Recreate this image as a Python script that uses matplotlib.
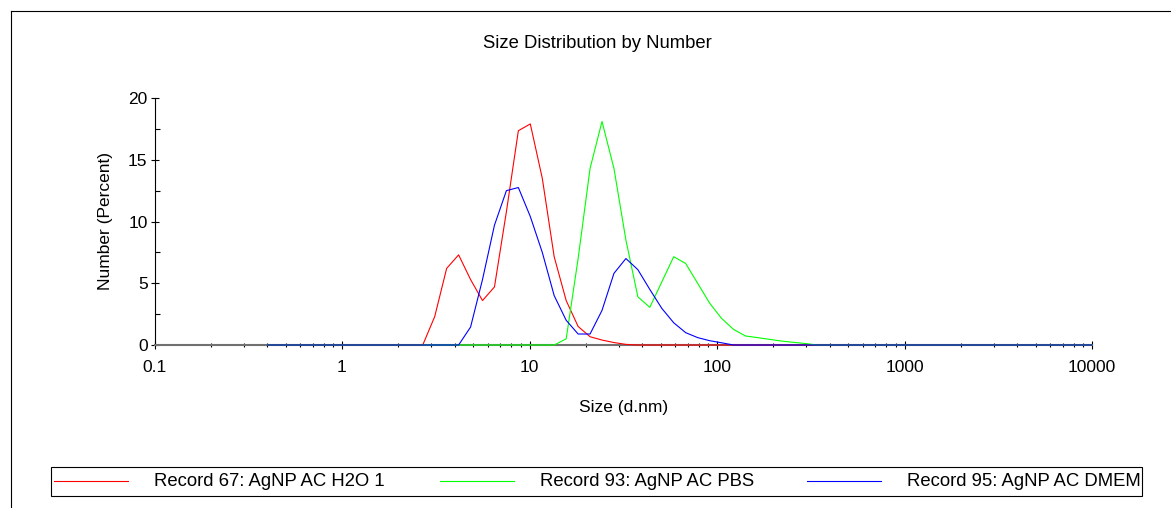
import matplotlib
matplotlib.use('Agg')
import matplotlib.pyplot as plt
from matplotlib.lines import Line2D
from matplotlib.patches import Rectangle
from matplotlib.ticker import MultipleLocator, LogLocator, NullFormatter

plt.rcParams['font.family'] = ['Liberation Sans', 'DejaVu Sans']

# size classes (d.nm)
sizes = [0.4, 0.4632, 0.5365, 0.6213, 0.7195, 0.8332, 0.9649, 1.117, 1.294, 1.499,
         1.736, 2.010, 2.328, 2.696, 3.122, 3.615, 4.187, 4.849, 5.615, 6.503,
         7.531, 8.721, 10.10, 11.70, 13.54, 15.69, 18.17, 21.04, 24.36, 28.21,
         32.67, 37.84, 43.82, 50.75, 58.77, 68.06, 78.82, 91.28, 105.7, 122.4,
         141.8, 164.2, 190.1, 220.2, 255.0, 295.3, 342.0, 396.1, 458.7, 531.2,
         615.1, 712.4, 825.0, 955.4, 1106, 1281, 1484, 1718, 1990, 2305,
         2669, 3091, 3580, 4145, 4801, 5560, 6439, 7456, 8635, 10000]

h2o = [0, 0, 0, 0, 0, 0, 0, 0, 0, 0,
       0, 0, 0, 0, 2.3, 6.2, 7.3, 5.3, 3.6, 4.7,
       10.8, 17.35, 17.9, 13.5, 7.15, 3.6, 1.5, 0.67, 0.4, 0.2,
       0.05, 0, 0, 0, 0, 0, 0, 0, 0, 0,
       0, 0, 0, 0, 0, 0, 0, 0, 0, 0,
       0, 0, 0, 0, 0, 0, 0, 0, 0, 0,
       0, 0, 0, 0, 0, 0, 0, 0, 0, 0]

pbs = [0, 0, 0, 0, 0, 0, 0, 0, 0, 0,
       0, 0, 0, 0, 0, 0, 0, 0, 0, 0,
       0, 0, 0, 0, 0, 0.5, 7.0, 14.3, 18.1, 14.3,
       8.5, 3.9, 3.05, 5.1, 7.15, 6.6, 5.0, 3.4, 2.16, 1.27,
       0.73, 0.6, 0.46, 0.32, 0.22, 0.12, 0, 0, 0, 0,
       0, 0, 0, 0, 0, 0, 0, 0, 0, 0,
       0, 0, 0, 0, 0, 0, 0, 0, 0, 0]

dmem = [0, 0, 0, 0, 0, 0, 0, 0, 0, 0,
        0, 0, 0, 0, 0, 0, 0, 1.45, 5.3, 9.7,
        12.5, 12.75, 10.4, 7.5, 4.0, 2.0, 0.89, 0.89, 2.8, 5.8,
        7.0, 6.1, 4.5, 2.97, 1.8, 1.0, 0.6, 0.35, 0.18, 0,
        0, 0, 0, 0, 0, 0, 0, 0, 0, 0,
        0, 0, 0, 0, 0, 0, 0, 0, 0, 0,
        0, 0, 0, 0, 0, 0, 0, 0, 0, 0]

labels = ['Record 67: AgNP AC H2O 1', 'Record 93: AgNP AC PBS', 'Record 95: AgNP AC DMEM']
colors = ['#ff0000', '#00ff00', '#0000ff']
x_ticks = [0.1, 1, 10, 100, 1000, 10000]
x_tick_labels = ['0.1', '1', '10', '100', '1000', '10000']
y_ticks = [0, 5, 10, 15, 20]

FS = 12.5
FS_TEXT = 13.3
W, H = 1171, 508
fig = plt.figure(figsize=(W / 100, H / 100), dpi=100)
ax = fig.add_axes([154.5 / W, 1 - 345 / H, 937.5 / W, 247 / H])

for ys, c in zip([h2o, pbs, dmem], colors):
    ax.plot(sizes, ys, color=c, lw=0.8, clip_on=False, zorder=3)

ax.set_xscale('log')
ax.set_xlim(0.1, 10000)
ax.set_ylim(0, 20)
ax.set_xticks(x_ticks, x_tick_labels)
ax.xaxis.set_minor_locator(LogLocator(base=10, subs=range(2, 10), numticks=20))
ax.xaxis.set_minor_formatter(NullFormatter())
ax.set_yticks(y_ticks)
ax.yaxis.set_minor_locator(MultipleLocator(2.5))

for s in ['top', 'right']:
    ax.spines[s].set_visible(False)
ax.spines['left'].set_color('black')
ax.spines['left'].set_linewidth(0.8)
ax.spines['bottom'].set_color('#707070')
ax.spines['bottom'].set_linewidth(1.5)

ax.tick_params(axis='both', which='major', direction='inout', length=6, width=0.8,
               color='black', labelsize=FS, pad=2)
ax.tick_params(axis='x', which='major', pad=8)
ax.tick_params(axis='x', which='minor', direction='inout', length=3.5, width=0.8, color='black')
ax.tick_params(axis='y', which='minor', direction='in', length=3.5, width=0.8, color='black')

ax.set_xlabel('Size (d.nm)', fontsize=FS, labelpad=18)
ax.set_ylabel('Number (Percent)', fontsize=FS, labelpad=11)

fig.text(597.5 / W, 1 - 43 / H, 'Size Distribution by Number', ha='center', va='center', fontsize=FS_TEXT)

# outer frame (top and left edges)
fig.add_artist(Line2D([10.5 / W, 1], [1 - 11 / H, 1 - 11 / H], color='black', lw=0.8))
fig.add_artist(Line2D([10.5 / W, 10.5 / W], [0, 1 - 11 / H], color='black', lw=0.8))

# legend box
fig.add_artist(Rectangle((50.5 / W, 1 - 496 / H), (1142 - 50.5) / W, 29.5 / H,
                         transform=fig.transFigure, fill=False, edgecolor='black', lw=0.8))
leg_x = [54, 440, 807]
for lx, lab, c in zip(leg_x, labels, colors):
    yy = 1 - 481 / H
    fig.add_artist(Line2D([lx / W, (lx + 74) / W], [yy, yy], color=c, lw=0.8))
    fig.text((lx + 100) / W, yy, lab, ha='left', va='center', fontsize=FS_TEXT)

fig.savefig('out.png', dpi=100)
